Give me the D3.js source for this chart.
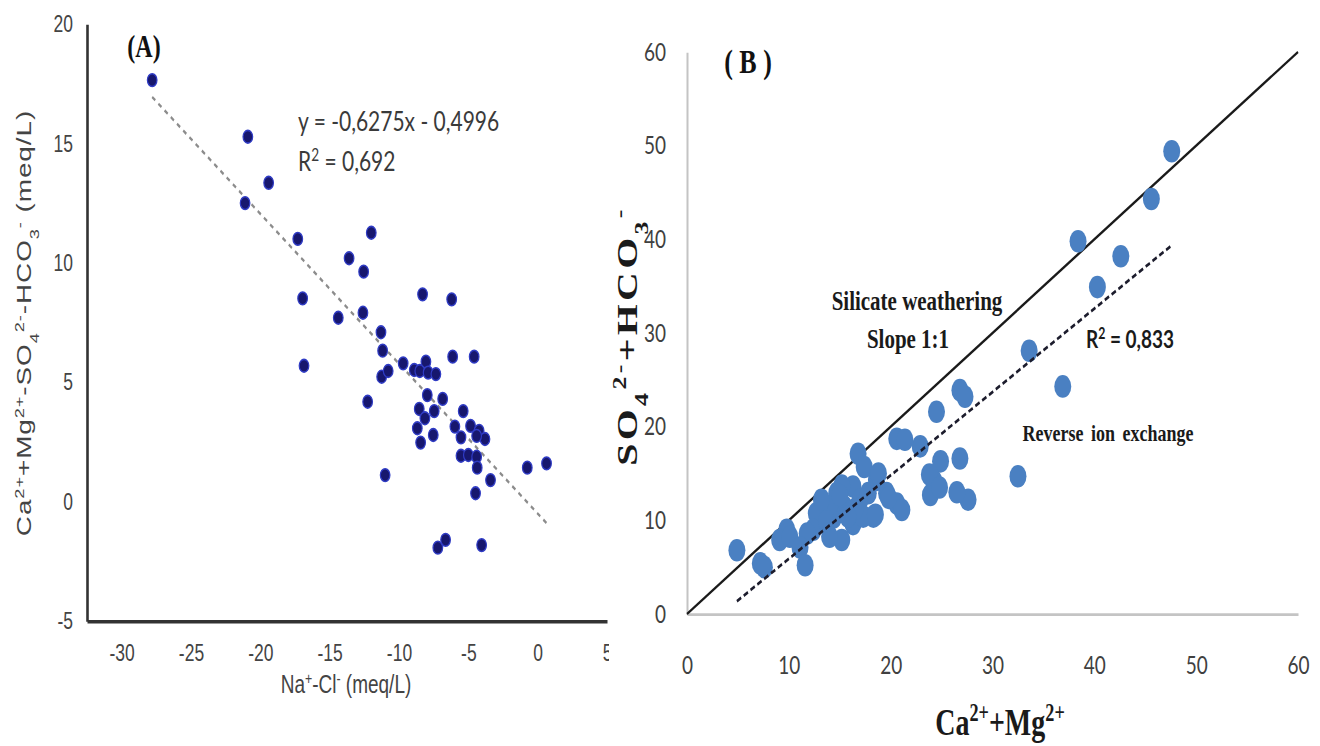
<!DOCTYPE html>
<html lang="en">
<head>
<meta charset="utf-8">
<script src="https://d3js.org/d3.v7.min.js"></script>
<style>
  body { margin: 0; background: #fff; }
  svg { display: block; }
</style>
</head>
<body>
<script>
// The source figure is stretched vertically, so we draw in a squashed box
// and let the viewBox stretch it back (preserveAspectRatio none).
const W = 1320, H = 746, K = 1.33;
const vy = y => y / K;

// ---- Panel A data: Na+-Cl- vs Ca+Mg-SO4-HCO3 (meq/L)
const naCl = [-27.8, -20.9, -19.4, -21.1, -17.3, -12.0, -13.6, -12.55, -16.95, -8.3,
              -6.2, -12.6, -14.38, -11.3, -11.18, -16.85, -6.13, -4.58, -9.7, -11.25,
              -10.78, -8.9, -8.5, -8.06, -7.9, -7.34, -7.96, -6.85, -12.26, -8.54,
              -7.46, -5.37, -8.13, -5.97, -4.84, -4.22, -8.68, -7.53, -5.53, -3.8,
              -4.4, -8.44, -5.53, -5.0, -4.4, -4.36, -0.75, 0.64, -11.0, -3.4,
              -4.48, -6.64, -7.2, -4.04];
const caMgMinus = [17.65, 15.28, 13.35, 12.5, 11.0, 11.26, 10.19, 9.63, 8.51, 8.68,
                   8.47, 7.91, 7.7, 7.09, 6.32, 5.69, 6.07, 6.07, 5.79, 5.23,
                   5.47, 5.51, 5.47, 5.86, 5.4, 5.34, 4.46, 4.3, 4.18, 3.88,
                   3.79, 3.79, 3.49, 3.14, 3.17, 2.96, 3.07, 2.79, 2.69, 2.62,
                   2.75, 2.47, 1.92, 1.95, 1.88, 1.42, 1.42, 1.6, 1.11, 0.9,
                   0.35, -1.6, -1.93, -1.82];
const slopeA = -0.6275, interceptA = -0.4996;
const xTicksA = [-30, -25, -20, -15, -10, -5, 0, 5];
const yTicksA = [-5, 0, 5, 10, 15, 20];

// ---- Panel B data: Ca+Mg vs SO4+HCO3
const caMg = [47.6, 45.6, 38.4, 42.6, 40.3, 33.6, 36.9, 26.8, 27.3, 24.5,
              32.5, 26.8, 24.9, 27.6, 26.5, 23.9, 24.2, 22.9, 23.8, 24.8,
              20.6, 21.4, 16.8, 17.4, 18.6, 19.6, 20.6, 21.1, 18.3, 15.2,
              14.0, 12.7, 12.4, 9.8, 9.1, 10.1, 14.7, 15.4, 16.3, 17.0,
              16.3, 14.4, 17.3, 14.0, 11.8, 11.1, 4.9, 7.2, 7.6, 11.6,
              18.8, 15.2, 15.0, 13.2, 16.5, 13.7, 18.5, 17.8, 19.8, 15.8];
const so4Hco3 = [49.4, 44.3, 39.8, 38.2, 34.9, 28.1, 24.3, 23.9, 23.2, 21.6,
                 14.7, 16.6, 16.3, 12.2, 13.0, 12.7, 14.3, 17.9, 14.9, 13.5,
                 18.7, 18.6, 17.1, 15.7, 14.3, 12.9, 11.8, 11.1, 10.4, 7.9,
                 8.25, 10.75, 9.0, 9.0, 7.9, 8.25, 12.9, 11.5, 13.6, 12.2,
                 9.6, 10.3, 10.4, 11.5, 8.6, 7.1, 6.8, 5.4, 5.0, 5.2,
                 15.0, 13.7, 12.7, 12.2, 11.2, 9.9, 10.6, 12.9, 12.4, 10.4];
const slopeB = 0.89, interceptB = -3.0;
const ticksB = [0, 10, 20, 30, 40, 50, 60];

// plain hyphen for negatives, like the original
const fmt = d => String(d);

let svg = d3.select("body").append("svg")
    .attr("width", W)
    .attr("height", H)
    .attr("viewBox", `0 0 ${W} ${H / K}`)
    .attr("preserveAspectRatio", "none");

// write text with super / subscripts: parts = [[text, "sup"|"sub"|null], ...]
function richText(sel, parts) {
    parts.forEach(p => {
        let t = sel.append("tspan").text(p[0]);
        if (p[1] === "sup") t.attr("baseline-shift", "super").attr("font-size", "65%");
        if (p[1] === "sub") t.attr("baseline-shift", "sub").attr("font-size", "65%");
    });
}

// ================= Panel A =================
svg.append("clipPath").attr("id", "clipA")
  .append("rect").attr("x", 0).attr("y", 0).attr("width", 609).attr("height", H / K);

let gA = svg.append("g").attr("clip-path", "url(#clipA)");

let xA = d3.scaleLinear().domain([-32.5, 5]).range([87, 607]);
let yA = d3.scaleLinear().domain([-5, 20]).range([vy(621), vy(24)]);

let axisAX = gA.append("g")
    .attr("transform", `translate(0,${yA(-5)})`)
    .call(d3.axisBottom(xA).tickValues(xTicksA).tickSize(0).tickFormat(fmt));
axisAX.selectAll("text").attr("y", vy(653) - yA(-5)).attr("dy", "0.35em");

let axisAY = gA.append("g")
    .attr("transform", `translate(${xA(-32.5)},0)`)
    .call(d3.axisLeft(yA).tickValues(yTicksA).tickSize(0).tickPadding(14).tickFormat(fmt));

[axisAX, axisAY].forEach(a => {
    a.select(".domain").attr("stroke", "#333").attr("stroke-width", 2.6);
    a.selectAll("text")
        .attr("font-family", "'Liberation Sans', Arial, sans-serif")
        .attr("font-size", 17.5)
        .attr("fill", "#444");
});

// trend line
let extA = d3.extent(naCl);
gA.append("line")
    .attr("x1", xA(extA[0])).attr("y1", yA(slopeA * extA[0] + interceptA))
    .attr("x2", xA(extA[1])).attr("y2", yA(slopeA * extA[1] + interceptA))
    .attr("stroke", "#8c8c8c")
    .attr("stroke-width", 2)
    .attr("stroke-dasharray", "4,4");

gA.selectAll("circle")
    .data(naCl)
    .join("circle")
        .attr("cx", d => xA(d))
        .attr("cy", (d, i) => yA(caMgMinus[i]))
        .attr("r", 4.8)
        .attr("fill", "#17176e")
        .attr("stroke", "#2f3bc4")
        .attr("stroke-width", 1.2);

gA.append("text")
    .attr("x", 144).attr("y", vy(57))
    .attr("text-anchor", "middle")
    .attr("font-family", "'Liberation Serif', 'Times New Roman', serif")
    .attr("font-weight", "bold")
    .attr("font-size", 24)
    .attr("fill", "#111")
    .text("(A)");

gA.append("text")
    .attr("x", 298).attr("y", vy(131))
    .attr("font-family", "Lato, sans-serif")
    .attr("font-size", 21)
    .attr("fill", "#3a3a3a")
    .text("y = -0,6275x - 0,4996");
let r2A = gA.append("text")
    .attr("x", 298).attr("y", vy(171))
    .attr("font-family", "Lato, sans-serif")
    .attr("font-size", 21)
    .attr("fill", "#3a3a3a");
richText(r2A, [["R", null], ["2", "sup"], [" = 0,692", null]]);

let xTitleA = gA.append("text")
    .attr("x", 346).attr("y", vy(684)).attr("dy", "0.35em")
    .attr("text-anchor", "middle")
    .attr("font-family", "'Liberation Sans', Arial, sans-serif")
    .attr("font-size", 19)
    .attr("fill", "#444");
richText(xTitleA, [["Na", null], ["+", "sup"], ["-Cl", null], ["-", "sup"], [" (meq/L)", null]]);

let yTitleA = gA.append("text")
    .attr("transform", `translate(24,${vy(323)}) rotate(-90)`)
    .attr("dy", "0.35em")
    .attr("text-anchor", "middle")
    .attr("font-family", "'Liberation Sans', Arial, sans-serif")
    .attr("font-size", 21)
    .attr("letter-spacing", 0.7)
    .attr("fill", "#444");
richText(yTitleA, [["Ca", null], ["2+", "sup"], ["+Mg", null], ["2+", "sup"], ["-SO", null],
    ["4", "sub"], ["2-", "sup"], ["-HCO", null], ["3", "sub"], ["-", "sup"], [" (meq/L)", null]]);

// ================= Panel B =================
let gB = svg.append("g");

let xB = d3.scaleLinear().domain([0, 60]).range([687, 1298]);
let yB = d3.scaleLinear().domain([0, 60]).range([vy(614), vy(52)]);

let axisBX = gB.append("g")
    .attr("transform", `translate(0,${yB(0)})`)
    .call(d3.axisBottom(xB).tickValues(ticksB).tickSize(0).tickFormat(fmt));
axisBX.selectAll("text").attr("y", vy(665) - yB(0)).attr("dy", "0.35em");

let axisBY = gB.append("g")
    .attr("transform", `translate(${xB(0)},0)`)
    .call(d3.axisLeft(yB).tickValues(ticksB).tickSize(0).tickPadding(21).tickFormat(fmt));

[axisBX, axisBY].forEach(a => {
    a.select(".domain").attr("stroke", "#c4c4c4").attr("stroke-width", 2);
    a.selectAll("text")
        .attr("font-family", "Lato, sans-serif")
        .attr("font-size", 19)
        .attr("fill", "#404040");
});

// 1:1 line
gB.append("line")
    .attr("x1", xB(0)).attr("y1", yB(0))
    .attr("x2", xB(60)).attr("y2", yB(60))
    .attr("stroke", "#1a1a1a")
    .attr("stroke-width", 2);

gB.selectAll("circle")
    .data(caMg)
    .join("circle")
        .attr("cx", d => xB(d))
        .attr("cy", (d, i) => yB(so4Hco3[i]))
        .attr("r", 8.5)
        .attr("fill", "#4a80c2");

// regression line
let extB = d3.extent(caMg);
gB.append("line")
    .attr("x1", xB(extB[0])).attr("y1", yB(slopeB * extB[0] + interceptB))
    .attr("x2", xB(extB[1])).attr("y2", yB(slopeB * extB[1] + interceptB))
    .attr("stroke", "#1c1c2c")
    .attr("stroke-width", 2.2)
    .attr("stroke-dasharray", "5,3");

const serif = "'Liberation Serif', 'Times New Roman', serif";

gB.append("text")
    .attr("x", 748).attr("y", vy(73))
    .attr("text-anchor", "middle")
    .attr("font-family", serif)
    .attr("font-weight", "bold")
    .attr("font-size", 26)
    .attr("fill", "#111")
    .text("( B )");

gB.append("text")
    .attr("x", 917).attr("y", vy(310))
    .attr("text-anchor", "middle")
    .attr("font-family", serif)
    .attr("font-weight", "bold")
    .attr("font-size", 21)
    .attr("fill", "#1a1a1a")
    .text("Silicate weathering");

gB.append("text")
    .attr("x", 908).attr("y", vy(348))
    .attr("text-anchor", "middle")
    .attr("font-family", serif)
    .attr("font-weight", "bold")
    .attr("font-size", 21)
    .attr("fill", "#1a1a1a")
    .text("Slope 1:1");

let r2B = gB.append("text")
    .attr("x", 1130).attr("y", vy(348))
    .attr("text-anchor", "middle")
    .attr("font-family", "Lato, sans-serif")
    .attr("font-weight", "bold")
    .attr("font-size", 19)
    .attr("fill", "#1a1a1a");
richText(r2B, [["R", null], ["2", "sup"], [" = 0,833", null]]);

gB.append("text")
    .attr("x", 1108).attr("y", vy(441))
    .attr("text-anchor", "middle")
    .attr("font-family", serif)
    .attr("font-weight", "bold")
    .attr("font-size", 18)
    .attr("word-spacing", 3)
    .attr("fill", "#1a1a1a")
    .text("Reverse ion exchange");

let xTitleB = gB.append("text")
    .attr("x", 1000).attr("y", vy(735))
    .attr("text-anchor", "middle")
    .attr("font-family", serif)
    .attr("font-weight", "bold")
    .attr("font-size", 28)
    .attr("fill", "#1a1a1a");
richText(xTitleB, [["Ca", null], ["2+", "sup"], ["+Mg", null], ["2+", "sup"]]);

let yTitleB = gB.append("text")
    .attr("transform", `translate(626,${vy(336)}) rotate(-90)`)
    .attr("dy", "0.35em")
    .attr("text-anchor", "middle")
    .attr("font-family", serif)
    .attr("font-weight", "bold")
    .attr("font-size", 30)
    .attr("letter-spacing", 2.5)
    .attr("fill", "#1a1a1a");
richText(yTitleB, [["SO", null], ["4", "sub"], ["2-", "sup"], ["+HCO", null], ["3", "sub"], ["-", "sup"]]);
</script>
</body>
</html>
